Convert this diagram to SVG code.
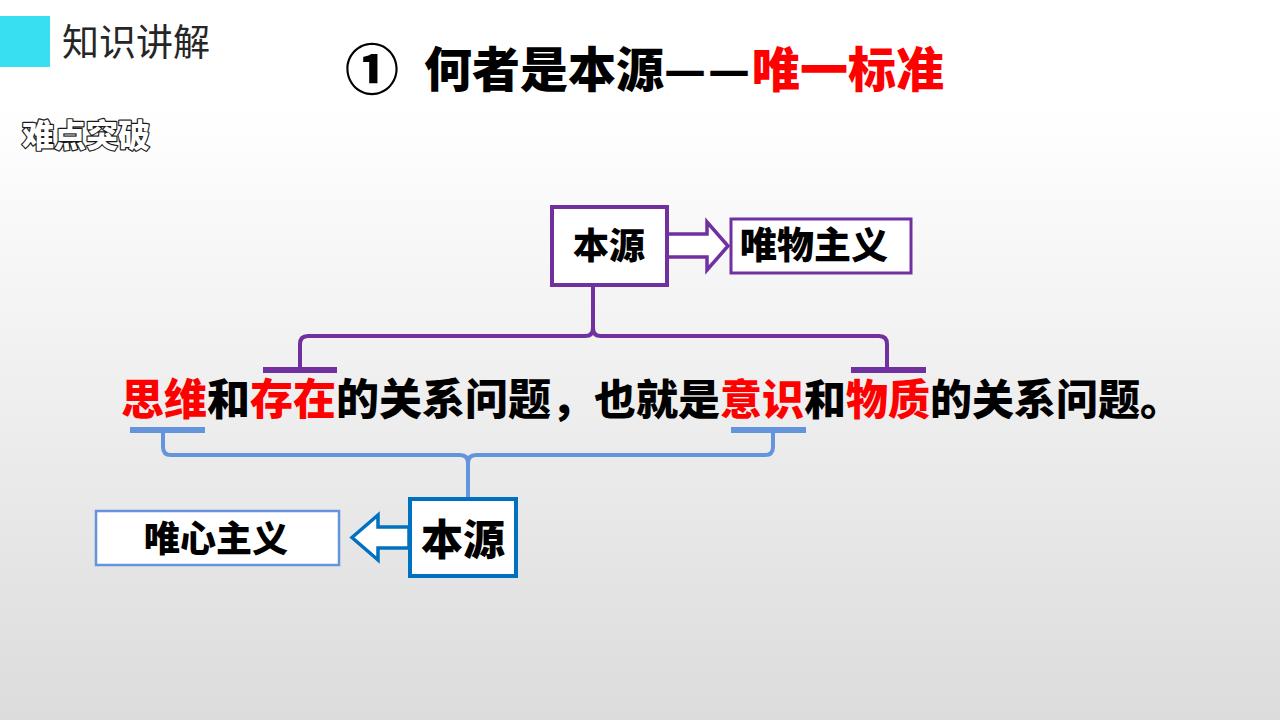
<svg xmlns="http://www.w3.org/2000/svg" width="1280" height="720" viewBox="0 0 1280 720">
<defs>
<linearGradient id="bg" x1="0" y1="0" x2="0" y2="1">
<stop offset="0" stop-color="#ffffff"/>
<stop offset="1" stop-color="#dcdcdc"/>
</linearGradient>
<style>
.cjk{font-family:"Noto Sans CJK SC","Noto Sans",sans-serif;}
.b{font-weight:900;}
.red{fill:#ff0000;}
.blk{fill:#000000;}
.pbox{fill:#ffffff;stroke:#7030a0;}
.bbox{fill:#ffffff;stroke:#0070c0;}
.lbox{fill:#ffffff;stroke:#6495dc;}
.pline{fill:none;stroke:#7030a0;stroke-width:4;}
.bline{fill:none;stroke:#6495dc;stroke-width:4;}
.pbar{stroke:#7030a0;stroke-width:6;}
.bbar{stroke:#6495dc;stroke-width:6;}
</style>
</defs>
<rect x="0" y="0" width="1280" height="720" fill="#ffffff"/>
<rect x="0" y="108" width="1280" height="612" fill="url(#bg)"/>
<g id="header">
<rect x="0" y="16" width="50" height="51" fill="#36e0f0"/>
<text x="62" y="56" class="cjk" font-size="37" fill="#262626">知识讲解</text>
<text x="22" y="147" class="cjk" font-size="32" font-weight="900" fill="#ffffff" stroke="#1a1a1a" stroke-width="2.4" paint-order="stroke" stroke-linejoin="round">难点突破</text>
</g>
<g id="title">
<text x="345" y="90" class="cjk b blk" font-size="54">①</text>
<text x="424" y="87" class="cjk b blk" font-size="48">何者是本源</text>
<text x="664" y="87" class="cjk b blk" font-size="48" textLength="42" lengthAdjust="spacingAndGlyphs">—</text>
<text x="708" y="87" class="cjk b blk" font-size="48" textLength="42" lengthAdjust="spacingAndGlyphs">—</text>
<text x="752" y="87" class="cjk b red" font-size="48">唯一标准</text>
</g>
<g id="connectors">
<path class="pline" d="M300,370 L300,344 Q300,336 308,336 L585,336 Q593,336 593,328 L593,286 M593,328 Q593,336 601,336 L879,336 Q887,336 887,344 L887,370"/>
<line class="pbar" x1="263" y1="370" x2="337" y2="370"/>
<line class="pbar" x1="851" y1="370" x2="926" y2="370"/>
<path class="bline" d="M163,430 L163,447 Q163,455 171,455 L460,455 Q468,455 468,463 L468,498 M468,463 Q468,455 476,455 L765,455 Q773,455 773,447 L773,430"/>
<line class="bbar" x1="130" y1="430" x2="205" y2="430"/>
<line class="bbar" x1="731" y1="430" x2="806" y2="430"/>
<polygon points="667,234 707,234 707,222 728,246 707,270 707,257 667,257" fill="#ffffff" stroke="#7030a0" stroke-width="3.5" stroke-linejoin="miter"/>
<polygon points="409,527 378,527 378,515 352,537.5 378,560 378,548 409,548" fill="#ffffff" stroke="#0070c0" stroke-width="3.5"/>
</g>
<g id="node-benyuan-top">
<rect class="pbox" x="552" y="207" width="115" height="78" stroke-width="4"/>
<text x="609" y="259" text-anchor="middle" class="cjk b blk" font-size="36">本源</text>
</g>
<g id="node-weiwu">
<rect class="pbox" x="731" y="219" width="180" height="54" stroke-width="3"/>
<text x="740" y="259" class="cjk b blk" font-size="37">唯物主义</text>
</g>
<g id="node-sentence">
<text x="121" y="415" class="cjk b blk" font-size="43"><tspan class="red">思维</tspan>和<tspan class="red">存在</tspan>的关系问题，</text>
<text x="594" y="415" class="cjk b blk" font-size="42">也就是<tspan class="red">意识</tspan>和<tspan class="red">物质</tspan>的关系问题。</text>
</g>
<g id="node-benyuan-bottom">
<rect class="bbox" x="410" y="499" width="106" height="77" stroke-width="4"/>
<text x="463" y="555" text-anchor="middle" class="cjk b blk" font-size="42">本源</text>
</g>
<g id="node-weixin">
<rect class="lbox" x="96" y="511" width="243" height="54" stroke-width="2.5"/>
<text x="216" y="552" text-anchor="middle" class="cjk b blk" font-size="36">唯心主义</text>
</g>
</svg>
